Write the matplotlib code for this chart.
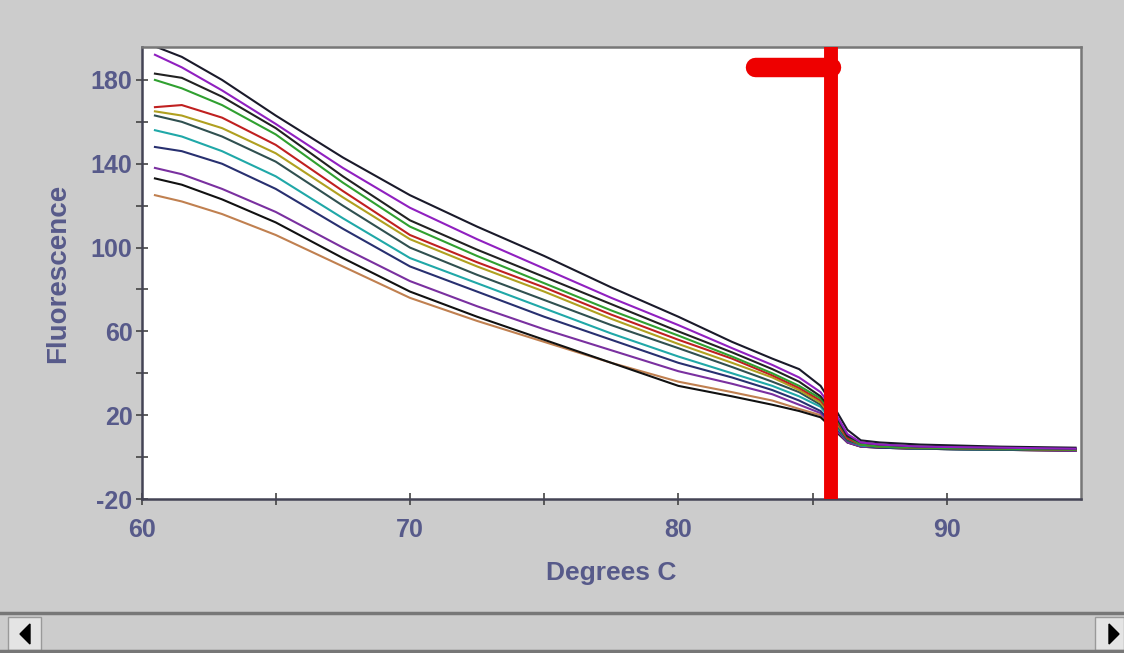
import matplotlib
matplotlib.use("Agg")
import matplotlib.pyplot as plt
from matplotlib.patches import Rectangle, Polygon
from matplotlib.lines import Line2D

# temperature knots (Degrees C)
temps = [60.5, 61.5, 63, 65, 67.5, 70, 72.5, 75, 77.5, 80, 82, 83.5, 84.5, 85.3, 85.8, 86.3, 86.8, 87.5, 89, 92, 94.8]

# melt curves, fluorescence
curve_01 = [196, 191, 180, 163, 143, 125, 110, 96, 81, 67, 55, 47, 42, 34, 24, 13, 8, 7, 6, 5, 4.5]
curve_02 = [192, 186, 175, 159, 138, 119, 104, 90, 76, 63, 52, 44, 38, 31, 22, 11, 7, 6, 5, 4.5, 4]
curve_03 = [183, 181, 172, 157, 134, 113, 99, 86, 73, 60, 50, 42, 36, 29, 21, 10, 7, 6, 5, 4.5, 4]
curve_04 = [180, 176, 168, 154, 131, 110, 96, 83, 70, 58, 48, 40, 34, 28, 20, 10, 6, 5, 4.5, 4, 3.5]
curve_05 = [167, 168, 162, 149, 127, 106, 93, 81, 68, 56, 47, 39, 33, 27, 19, 9, 6, 5, 4.5, 4, 3.5]
curve_06 = [165, 163, 157, 145, 124, 104, 91, 79, 66, 54, 45, 38, 32, 26, 18, 9, 6, 5, 4.5, 4, 3.5]
curve_07 = [163, 160, 153, 141, 120, 100, 87, 75, 63, 52, 43, 36, 31, 25, 17, 8, 6, 5, 4, 3.5, 3.5]
curve_08 = [156, 153, 146, 134, 114, 95, 83, 71, 59, 48, 40, 34, 29, 24, 16, 8, 5.5, 5, 4, 3.5, 3.5]
curve_09 = [148, 146, 140, 128, 109, 91, 79, 67, 56, 45, 38, 32, 27, 22, 15, 8, 5.5, 4.5, 4, 3.5, 3.5]
curve_10 = [138, 135, 128, 117, 100, 84, 72, 61, 51, 41, 35, 30, 25, 21, 14, 7, 5, 4.5, 4, 3.5, 3]
curve_11 = [133, 130, 123, 112, 95, 79, 67, 56, 45, 34, 29, 25, 22, 19, 13, 7, 5, 4.5, 4, 3.5, 3]
curve_12 = [125, 122, 116, 106, 91, 76, 65, 55, 45, 36, 31, 27, 23, 20, 14, 7, 5, 4.5, 4, 3.5, 3]

curves = [curve_12, curve_11, curve_10, curve_09, curve_08, curve_07, curve_06,
          curve_05, curve_04, curve_03, curve_01, curve_02]
colors = ["#c08050", "#111111", "#7a30a0", "#283070", "#20a8a8", "#305050", "#b0a020",
          "#c02020", "#30a030", "#222222", "#1a1a2a", "#9020c0"]

marker_temp = 85.7
flag_start = 82.85
flag_level = 186

xticks = [60, 70, 80, 90]
yticks = [-20, 20, 60, 100, 140, 180]

txt = "#575a8a"
plt.rcParams["font.family"] = ["Liberation Sans", "DejaVu Sans"]
plt.rcParams["axes.unicode_minus"] = False

fig = plt.figure(figsize=(11.24, 6.53), dpi=100, facecolor="#cccccc")
ax = fig.add_axes([0.1259, 0.2358, 0.8358, 0.6922])
ax.set_facecolor("white")

for c, col in zip(curves, colors):
    ax.plot(temps, c, color=col, lw=1.5)

ax.axvline(marker_temp, color="#ee0000", lw=10, zorder=5)
ax.plot([flag_start, marker_temp], [flag_level, flag_level], color="#ee0000",
        lw=14, solid_capstyle="round", zorder=5)

ax.set_xlim(60, 95)
ax.set_ylim(-20, 195.7)
ax.set_xticks(xticks)
ax.set_xticks([65, 75, 85], minor=True)
ax.set_yticks(yticks)
ax.set_yticks([0, 40, 80, 120, 160], minor=True)
ax.tick_params(which="both", direction="inout", length=9, width=1.2, color="#444444",
               labelcolor=txt, labelsize=18)
ax.tick_params(axis="x", pad=9)
ax.tick_params(axis="y", pad=2)
for lab in ax.get_xticklabels() + ax.get_yticklabels():
    lab.set_fontweight("bold")

for s in ["left", "bottom"]:
    ax.spines[s].set_color("#444455")
    ax.spines[s].set_linewidth(1.8)
for s in ["top", "right"]:
    ax.spines[s].set_color("#777777")
    ax.spines[s].set_linewidth(1.8)

ax.set_xlabel("Degrees C", color=txt, fontsize=19, fontweight="bold", labelpad=14)
ax.set_ylabel("Fluorescence", color=txt, fontsize=20, fontweight="bold", labelpad=14)

# scrollbar at the bottom
H = 653.0
W = 1124.0
def fy(py):
    return 1 - py / H
fig.add_artist(Line2D([0, 1], [fy(613), fy(613)], color="#777777", lw=2.5))
fig.add_artist(Line2D([0, 1], [fy(651), fy(651)], color="#777777", lw=2.5))
fig.add_artist(Rectangle((8 / W, fy(650)), 33 / W, 33 / H, facecolor="#e4e4e4",
                         edgecolor="#999999", lw=1))
fig.add_artist(Rectangle((1095 / W, fy(650)), 29 / W, 33 / H, facecolor="#e4e4e4",
                         edgecolor="#999999", lw=1))
fig.add_artist(Polygon([(20 / W, fy(634)), (30 / W, fy(624)), (30 / W, fy(644))],
                       closed=True, color="black"))
fig.add_artist(Polygon([(1119 / W, fy(634)), (1109 / W, fy(624)), (1109 / W, fy(644))],
                       closed=True, color="black"))

fig.savefig("out.png", dpi=100, facecolor=fig.get_facecolor())
